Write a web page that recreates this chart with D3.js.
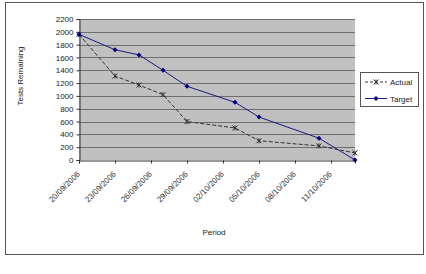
<!DOCTYPE html>
<html>
<head>
<meta charset="utf-8">
<script src="https://cdn.jsdelivr.net/npm/d3@7"></script>
<style>
  body { margin: 0; background: #fff; }
  svg { font-family: 'Liberation Sans', Arial, sans-serif; }
</style>
</head>
<body>
<svg id="chart" width="426" height="274"></svg>
<script>
// chart data
const pointDates = ['2006-09-20', '2006-09-23', '2006-09-25', '2006-09-27', '2006-09-29',
  '2006-10-03', '2006-10-05', '2006-10-10', '2006-10-13'];
const actualValues = [1960, 1310, 1170, 1020, 600, 500, 300, 220, 110];
const targetValues = [1960, 1720, 1640, 1400, 1150, 900, 670, 340, 0];
const tickDates = ['2006-09-20', '2006-09-23', '2006-09-26', '2006-09-29',
  '2006-10-02', '2006-10-05', '2006-10-08', '2006-10-11'];
const yTicks = [0, 200, 400, 600, 800, 1000, 1200, 1400, 1600, 1800, 2000, 2200];
const axisEnd = '2006-10-13';

const parse = d3.utcParse('%Y-%m-%d');
const fmt = d3.utcFormat('%d/%m/%Y');

const svg = d3.select('#chart');
const plot = { left: 79, top: 19, right: 355, bottom: 160 };

// outer frame
svg.append('rect')
  .attr('x', 5.5).attr('y', 2.5)
  .attr('width', 418).attr('height', 252)
  .attr('fill', '#fff').attr('stroke', '#555');

const x = d3.scaleUtc()
  .domain([parse(pointDates[0]), parse(axisEnd)])
  .range([plot.left, plot.right]);
const y = d3.scaleLinear()
  .domain([0, 2200])
  .range([plot.bottom, plot.top]);

// plot background
svg.append('rect')
  .attr('x', plot.left).attr('y', plot.top)
  .attr('width', plot.right - plot.left).attr('height', plot.bottom - plot.top)
  .attr('fill', '#c0c0c0');

// gridlines
svg.append('g')
  .selectAll('line')
  .data(yTicks.filter(d => d > 0))
  .join('line')
  .attr('x1', plot.left).attr('x2', plot.right)
  .attr('y1', d => Math.round(y(d)) + 0.5).attr('y2', d => Math.round(y(d)) + 0.5)
  .attr('stroke', '#6e6e6e').attr('stroke-width', 1);

// y axis
const yAxis = svg.append('g')
  .attr('transform', `translate(${plot.left + 0.5},0)`)
  .call(d3.axisLeft(y).tickValues(yTicks).tickFormat(d3.format('d')).tickSize(3).tickPadding(3));
yAxis.select('.domain').attr('stroke', '#333');
yAxis.selectAll('.tick line').attr('stroke', '#333');
yAxis.selectAll('text').attr('font-size', 8).attr('fill', '#222');

// x axis
const xAxis = svg.append('g')
  .attr('transform', `translate(0,${plot.bottom + 0.5})`)
  .call(d3.axisBottom(x).tickValues(tickDates.map(parse)).tickFormat(fmt).tickSize(3));
xAxis.select('.domain').attr('stroke', '#333');
xAxis.selectAll('.tick line').attr('stroke', '#333');
xAxis.selectAll('text')
  .attr('font-size', 8).attr('fill', '#333')
  .attr('text-anchor', 'end')
  .attr('dy', null).attr('y', 0)
  .attr('transform', 'translate(1,14) rotate(-45)');

// series lines
const pts = vals => vals.map((v, i) => [x(parse(pointDates[i])), y(v)]);
const line = d3.line();

svg.append('path')
  .attr('d', line(pts(actualValues)))
  .attr('fill', 'none').attr('stroke', '#333')
  .attr('stroke-width', 1).attr('stroke-dasharray', '4,2');

svg.append('path')
  .attr('d', line(pts(targetValues)))
  .attr('fill', 'none').attr('stroke', '#1a1a80')
  .attr('stroke-width', 1);

// markers
function starMarker(g, px, py) {
  g.append('path')
    .attr('d', `M${px - 2.5},${py - 2.5}L${px + 2.5},${py + 2.5}M${px - 2.5},${py + 2.5}L${px + 2.5},${py - 2.5}M${px},${py - 2.5}L${px},${py + 2.5}`)
    .attr('stroke', '#333').attr('stroke-width', 1);
}
function diamondMarker(g, px, py) {
  g.append('path')
    .attr('d', `M${px},${py - 2.5}L${px + 2.5},${py}L${px},${py + 2.5}L${px - 2.5},${py}Z`)
    .attr('fill', '#000080');
}

const markers = svg.append('g');
pts(actualValues).forEach(p => starMarker(markers, p[0], p[1]));
pts(targetValues).forEach(p => diamondMarker(markers, p[0], p[1]));

// axis titles
svg.append('text')
  .attr('transform', 'translate(23,76) rotate(-90)')
  .attr('text-anchor', 'middle')
  .attr('font-size', 8).attr('fill', '#222')
  .text('Tests Remaining');

svg.append('text')
  .attr('x', 214).attr('y', 235)
  .attr('text-anchor', 'middle')
  .attr('font-size', 8).attr('fill', '#222')
  .text('Period');

// legend
const legend = svg.append('g');
legend.append('rect')
  .attr('x', 360.5).attr('y', 72.5)
  .attr('width', 58).attr('height', 34)
  .attr('fill', '#fff').attr('stroke', '#555');

legend.append('line')
  .attr('x1', 365).attr('x2', 387).attr('y1', 82).attr('y2', 82)
  .attr('stroke', '#333').attr('stroke-dasharray', '3,2');
starMarker(legend, 376, 82);
legend.append('text')
  .attr('x', 390).attr('y', 85)
  .attr('font-size', 8).attr('fill', '#222')
  .text('Actual');

legend.append('line')
  .attr('x1', 365).attr('x2', 387).attr('y1', 98.5).attr('y2', 98.5)
  .attr('stroke', '#1a1a80');
diamondMarker(legend, 376, 98.5);
legend.append('text')
  .attr('x', 390).attr('y', 101.5)
  .attr('font-size', 8).attr('fill', '#222')
  .text('Target');
</script>
</body>
</html>
